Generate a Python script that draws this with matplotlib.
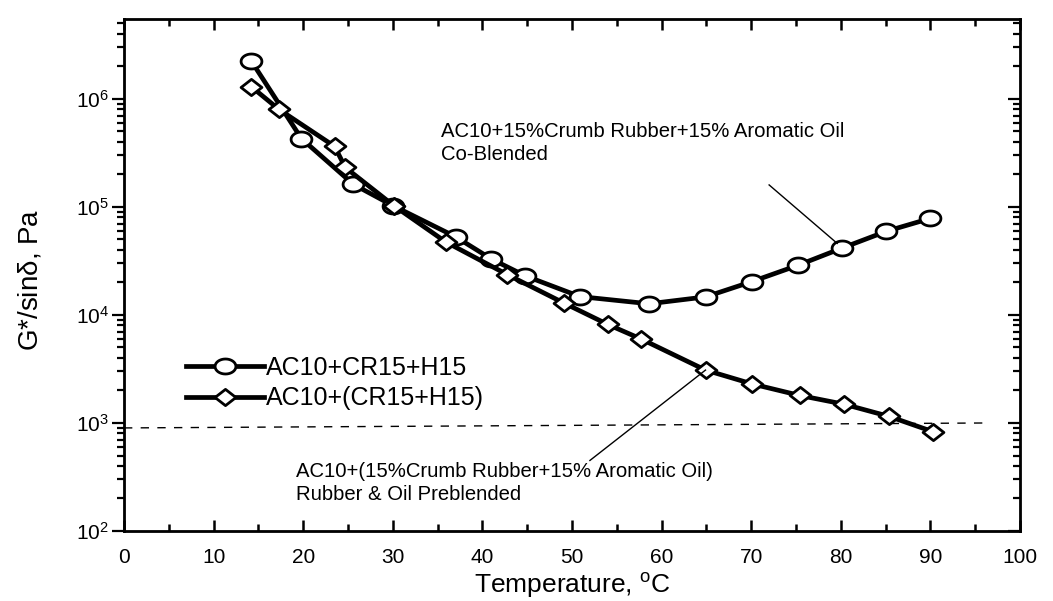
import numpy as np
import matplotlib
matplotlib.use("Agg")
import matplotlib.pyplot as plt
from matplotlib.path import Path

plt.rcParams['font.family'] = ['Liberation Sans', 'DejaVu Sans']

# data
temp_co = [14.2, 19.8, 25.6, 30.0, 37.0, 41.0, 44.8, 50.9, 58.6, 64.9, 70.1, 75.2, 80.1, 85.1, 90.0]
g_co = [2.25e6, 4.3e5, 1.62e5, 1.03e5, 5.3e4, 3.3e4, 2.3e4, 1.48e4, 1.27e4, 1.47e4, 2.04e4, 2.88e4, 4.15e4, 5.96e4, 7.84e4]

temp_pre = [14.2, 17.3, 23.5, 24.7, 30.1, 35.9, 42.8, 49.1, 54.0, 57.7, 64.9, 70.1, 75.4, 80.4, 85.4, 90.3]
g_pre = [1.3e6, 8.0e5, 3.64e5, 2.32e5, 1.03e5, 4.75e4, 2.36e4, 1.29e4, 8.17e3, 6.0e3, 3.09e3, 2.3e3, 1.8e3, 1.49e3, 1.15e3, 8.3e2]

limit_x = [0, 96]
limit_y = [900, 1000]

labels = ['AC10+CR15+H15', 'AC10+(CR15+H15)']
x_ticks = [0, 10, 20, 30, 40, 50, 60, 70, 80, 90, 100]
y_ticks = [1e2, 1e3, 1e4, 1e5, 1e6]

# slightly squashed markers like the scan
t = np.linspace(0, 2 * np.pi, 41)
ell = Path(np.column_stack([np.cos(t), 0.72 * np.sin(t)]), closed=True)
dia = Path([(0, 0.78), (1, 0), (0, -0.78), (-1, 0), (0, 0.78)], closed=True)

fig = plt.figure(figsize=(10.53, 6.01), dpi=100)
ax = fig.add_axes([124 / 1053, 1 - 531 / 601, 896 / 1053, 512 / 601])

ax.plot(limit_x, limit_y, color='black', lw=1.0, ls=(0, (6, 6)))
ax.plot(temp_co, g_co, color='black', lw=3.4, marker=ell, ms=15, mfc='white',
        mec='black', mew=2.0, label=labels[0])
ax.plot(temp_pre, g_pre, color='black', lw=3.4, marker=dia, ms=15, mfc='white',
        mec='black', mew=2.0, label=labels[1])

ax.set_yscale('log')
ax.set_xlim(0, 100)
ax.set_ylim(1e2, 5.5e6)
ax.set_xticks(x_ticks)
ax.set_xticks(np.arange(5, 100, 10), minor=True)
ax.set_yticks(y_ticks)
ax.set_yticklabels([r'$\mathregular{10^{%d}}$' % int(np.log10(v)) for v in y_ticks])
ax.tick_params(axis='x', which='both', direction='in', top=True, labelsize=15, width=1.8, pad=12)
ax.tick_params(axis='x', which='major', length=8)
ax.tick_params(axis='x', which='minor', length=5)
ax.tick_params(axis='y', which='both', direction='out', right=False, labelsize=15, width=1.6, pad=2)
ax.tick_params(axis='y', which='major', length=9)
ax.tick_params(axis='y', which='minor', length=5)
for s in ax.spines.values():
    s.set_linewidth(2.0)

ax2 = ax.twinx()
ax2.set_yscale('log')
ax2.set_ylim(ax.get_ylim())
ax2.tick_params(axis='y', which='both', direction='in', labelright=False, width=1.6)
ax2.tick_params(axis='y', which='major', length=9)
ax2.tick_params(axis='y', which='minor', length=5)

ax.set_xlabel(r'Temperature, $\mathregular{^{o}}$C', fontsize=19)
ax.xaxis.set_label_coords(0.5, -0.078)
ax.set_ylabel(r'G*/sin$\mathregular{\delta}$, Pa', fontsize=20)
ax.yaxis.set_label_coords(-0.09, 0.49)

ax.text(35.4, 3.9e5, 'AC10+15%Crumb Rubber+15% Aromatic Oil\nCo-Blended',
        fontsize=14.6, va='center', ha='left', linespacing=1.25)
ax.plot([72.0, 79.6], [1.6e5, 4.6e4], color='black', lw=1.0)

ax.text(19.2, 280, 'AC10+(15%Crumb Rubber+15% Aromatic Oil)\nRubber & Oil Preblended',
        fontsize=14.6, va='center', ha='left', linespacing=1.25)
ax.plot([52.0, 64.9], [450, 3.09e3], color='black', lw=1.0)

ax.legend(loc='upper left', bbox_to_anchor=(186 / 1053, 1 - 356 / 601),
          bbox_transform=fig.transFigure, frameon=False, fontsize=18,
          handlelength=3.1, handletextpad=0.1, labelspacing=0.25,
          borderpad=0, borderaxespad=0)

fig.savefig('out.png', dpi=100)
